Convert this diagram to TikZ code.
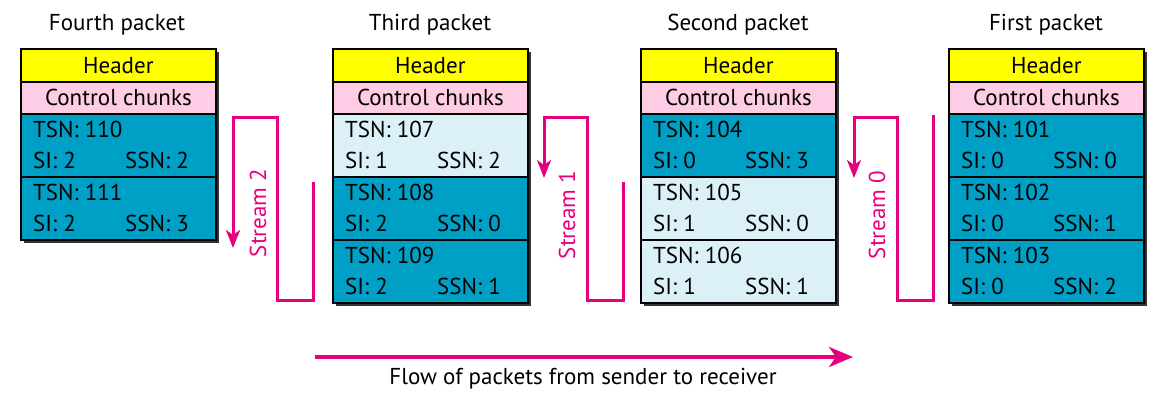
\documentclass[tikz,border=0pt]{standalone}
\usepackage{fontspec}
\setmainfont{PT Sans}
\usetikzlibrary{arrows.meta,shadows}
\definecolor{hdryellow}{RGB}{255,255,0}
\definecolor{ctrlpink}{RGB}{255,204,230}
\definecolor{chunkblue}{RGB}{0,160,198}
\definecolor{chunklight}{RGB}{220,240,248}
\definecolor{streampink}{RGB}{230,0,126}
\tikzset{
  every node/.style={font=\fontsize{23}{27}\selectfont},
  cell/.style={draw, line width=1.8pt, minimum width=195pt, inner sep=0pt, anchor=north west},
  hdr/.style={cell, fill=hdryellow, minimum height=33pt},
  ctrl/.style={cell, fill=ctrlpink, minimum height=32pt},
  chunk/.style={cell, minimum height=63pt},
  frame/.style={fill=white, minimum width=195pt, inner sep=0pt, anchor=north west,
    drop shadow={shadow xshift=4pt, shadow yshift=-4pt, fill=black!80, opacity=1}},
  txt/.style={anchor=west, inner sep=0pt},
  stream/.style={draw=streampink, line width=3pt, -{Stealth[length=18pt,width=14pt,inset=5pt]}},
}
\newcommand{\chunkcell}[6]% name, corner, fill, tsn, si, ssn
{\node[chunk, fill=#3] (#1) at (#2) {};
 \node[txt] (#1t) at ([shift={(13,16)}]#1.north west) {TSN: #4};
 \node[txt] (#1s) at ([shift={(13,47)}]#1.north west) {SI: #5};
 \node[txt] (#1n) at ([shift={(105,47)}]#1.north west) {SSN: #6};
}

\begin{document}
\begin{tikzpicture}[x=1pt,y=-1pt]
	\useasboundingbox (0,0) rectangle (1167,412);
	% fourth packet
	\node at (117,25) (t4) {Fourth packet};
	\node[frame, minimum height=191pt] (p4) at (20,48) {};
	\node[hdr] (h4) at (20,48) {Header};
	\node[ctrl] (k4) at (20,81) {Control chunks};
	\chunkcell{c110}{20,113}{chunkblue}{110}{2}{2}
	\chunkcell{c111}{20,176}{chunkblue}{111}{2}{3}
	% third packet
	\node at (430,25) (t3) {Third packet};
	\node[frame, minimum height=254pt] (p3) at (332,48) {};
	\node[hdr] (h3) at (332,48) {Header};
	\node[ctrl] (k3) at (332,81) {Control chunks};
	\chunkcell{c107}{332,113}{chunklight}{107}{1}{2}
	\chunkcell{c108}{332,176}{chunkblue}{108}{2}{0}
	\chunkcell{c109}{332,239}{chunkblue}{109}{2}{1}
	% second packet
	\node at (738,25) (t2) {Second packet};
	\node[frame, minimum height=254pt] (p2) at (640,48) {};
	\node[hdr] (h2) at (640,48) {Header};
	\node[ctrl] (k2) at (640,81) {Control chunks};
	\chunkcell{c104}{640,113}{chunkblue}{104}{0}{3}
	\chunkcell{c105}{640,176}{chunklight}{105}{1}{0}
	\chunkcell{c106}{640,239}{chunklight}{106}{1}{1}
	% first packet
	\node at (1046,25) (t1) {First packet};
	\node[frame, minimum height=254pt] (p1) at (948,48) {};
	\node[hdr] (h1) at (948,48) {Header};
	\node[ctrl] (k1) at (948,81) {Control chunks};
	\chunkcell{c101}{948,113}{chunkblue}{101}{0}{0}
	\chunkcell{c102}{948,176}{chunkblue}{102}{0}{1}
	\chunkcell{c103}{948,239}{chunkblue}{103}{0}{2}
	% streams
	\coordinate (s2a) at (313,182);
	\coordinate (s2b) at (233,248);
	\draw[stream] (s2a) |- (277,300) |- (233,117) -- (s2b);
	\node[rotate=90, text=streampink] (st2) at (258,213) {Stream 2};
	\coordinate (s1a) at (623,182);
	\coordinate (s1b) at (544,178);
	\draw[stream] (s1a) |- (587,300) |- (544,117) -- (s1b);
	\node[rotate=90, text=streampink] (st1) at (567,215) {Stream 1};
	\coordinate (s0a) at (933,115);
	\coordinate (s0b) at (854,178);
	\draw[stream] (s0a) |- (897,300) |- (854,117) -- (s0b);
	\node[rotate=90, text=streampink] (st0) at (877,215) {Stream 0};
	% flow
	\coordinate (fa) at (315,357);
	\coordinate (fb) at (853,357);
	\draw[streampink, line width=4pt, -{Stealth[length=24pt,width=20pt,inset=7pt]}] (fa) -- (fb);
	\node (flow) at (583,379) {Flow of packets from sender to receiver};
\end{tikzpicture}
\end{document}
